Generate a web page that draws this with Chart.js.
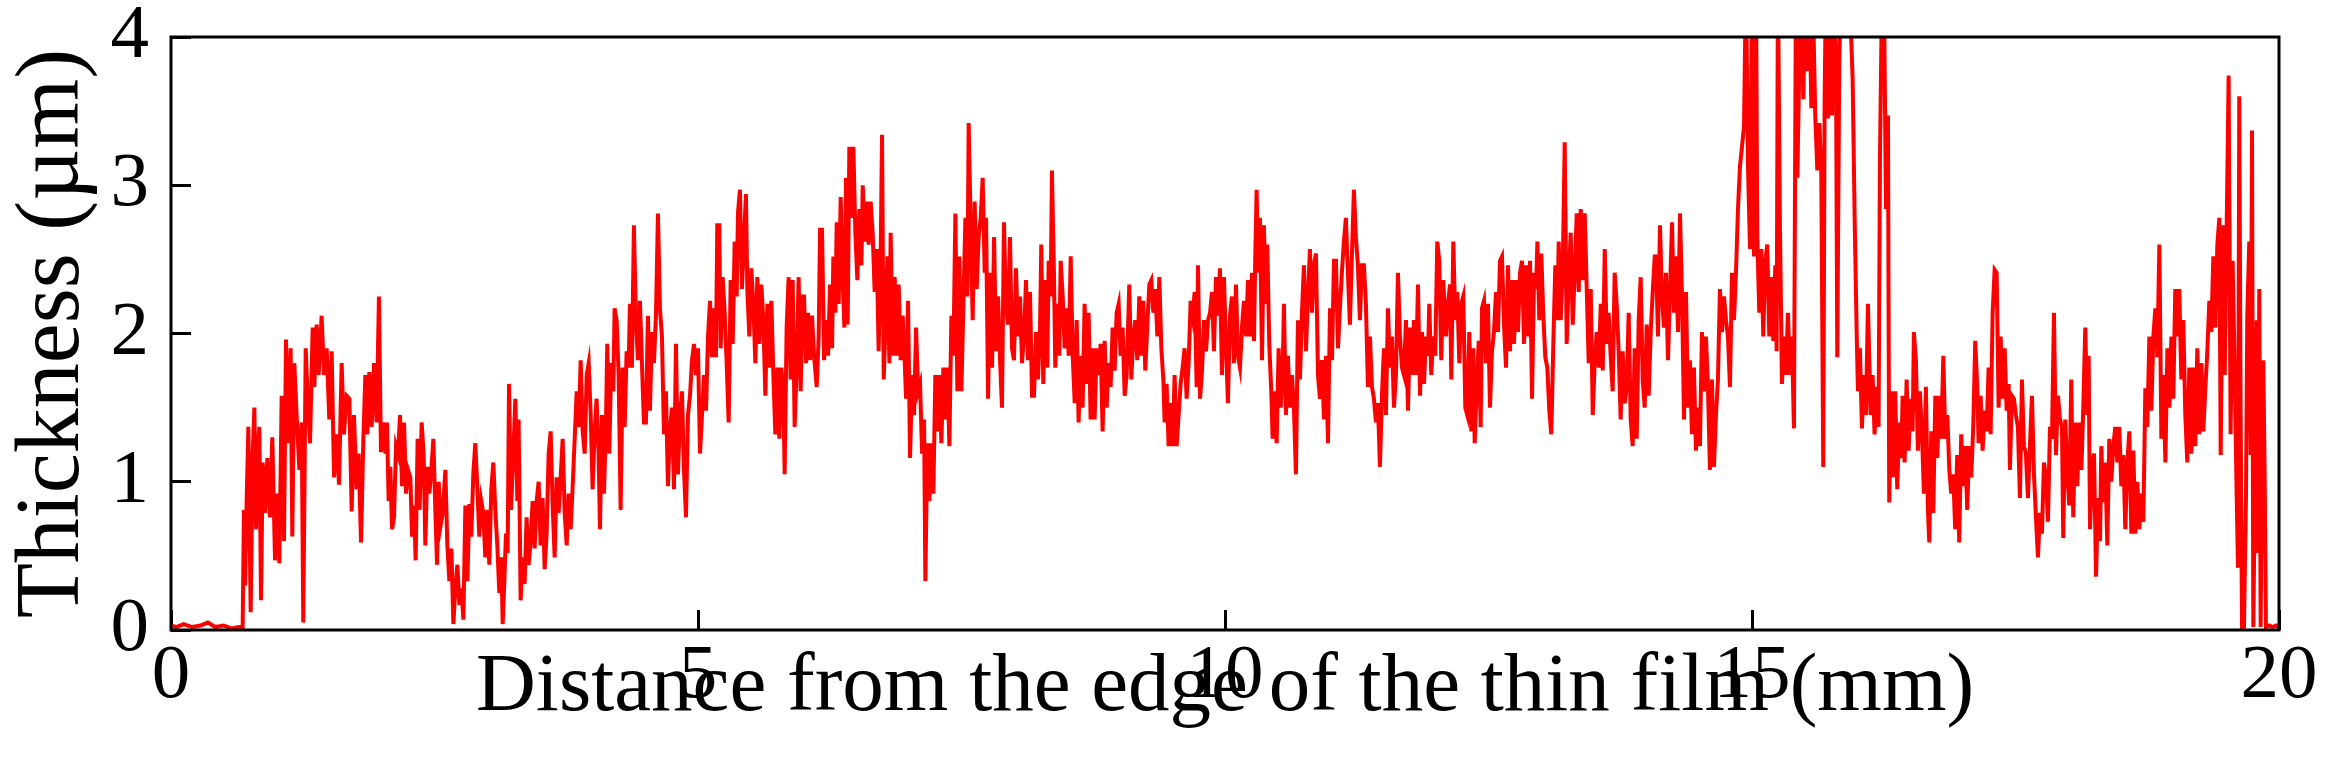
<!DOCTYPE html>
<html>
<head>
<meta charset="utf-8">
<script src="https://cdn.jsdelivr.net/npm/chart.js@4.4.1/dist/chart.umd.min.js"></script>
<style>
  html, body { margin: 0; padding: 0; background: #fff; }
  #wrap { width: 2335px; height: 778px; position: relative; }
</style>
</head>
<body>
<div id="wrap"><canvas id="c"></canvas></div>
<script>
// Thickness profile: [distance (mm), thickness (µm)]
// 0 - 2 mm (bare substrate, then the film edge)
const seg0to2 = [[0,0.03],[0.05,0.02],[0.12,0.04],[0.2,0.02],[0.28,0.03],[0.35,0.05],[0.42,0.02],[0.5,0.03],[0.58,0.01],[0.64,0.02],
  [0.68,0.02],[0.692,0.81],[0.703,0.30],[0.718,0.88],[0.734,1.37],[0.756,0.12],[0.775,1.18],[0.791,1.50],[0.807,0.68],[0.822,1.19],
  [0.838,1.37],[0.854,0.20],[0.870,1.13],[0.892,0.79],[0.914,1.16],[0.939,0.76],[0.961,1.30],[0.987,0.47],[1.009,0.92],[1.028,0.45],
  [1.050,1.58],[1.072,0.60],[1.091,1.96],[1.113,1.26],[1.135,1.90],[1.151,0.63],[1.170,1.80],[1.192,1.45],[1.218,1.08],[1.240,1.40],
  [1.255,0.05],[1.278,1.90],[1.297,1.56],[1.319,1.26],[1.344,2.04],[1.360,1.64],[1.382,2.06],[1.401,1.72],[1.429,2.12],[1.452,1.72],
  [1.477,1.90],[1.502,1.42],[1.524,1.88],[1.547,1.03],[1.572,1.32],[1.594,0.98],[1.619,1.80],[1.641,1.32],[1.667,1.58],[1.692,1.56],
  [1.714,0.80],[1.736,1.45],[1.761,0.95],[1.780,1.19],[1.803,0.59],[1.825,1.29],[1.844,1.72],[1.863,1.32],[1.882,1.74],[1.904,1.37],
  [1.926,1.80],[1.951,1.40],[1.973,2.25],[1.992,1.20],[2.014,1.40]];

const seg2to4 = [[2.034,1.19],[2.049,1.40],[2.065,0.87],[2.081,1.10],[2.097,0.68],[2.116,0.76],[2.135,1.24],[2.154,1.19],[2.173,1.45],[2.192,0.97],
  [2.211,1.40],[2.230,0.92],[2.249,1.08],[2.271,1.03],[2.287,0.63],[2.306,0.84],[2.321,0.47],[2.340,1.29],[2.359,0.81],[2.378,1.40],
  [2.397,1.19],[2.413,0.57],[2.432,1.10],[2.451,0.92],[2.470,1.08],[2.489,1.29],[2.508,0.81],[2.524,0.44],[2.540,1.00],[2.559,0.71],
  [2.578,0.79],[2.603,1.08],[2.622,0.57],[2.641,0.33],[2.660,0.55],[2.679,0.04],[2.698,0.28],[2.717,0.44],[2.736,0.17],[2.755,0.28],
  [2.774,0.07],[2.793,0.84],[2.812,0.33],[2.831,0.85],[2.849,0.63],[2.868,1.05],[2.887,1.26],[2.906,0.97],[2.925,0.63],[2.944,0.87],
  [2.963,0.79],[2.982,0.49],[3.001,0.81],[3.020,0.44],[3.039,0.95],[3.058,1.13],[3.077,0.81],[3.096,0.57],[3.115,0.25],[3.134,0.49],
  [3.147,0.04],[3.163,0.33],[3.178,0.65],[3.194,0.52],[3.207,1.66],[3.226,0.81],[3.245,1.13],[3.267,1.56],[3.286,0.87],[3.298,1.42],
  [3.317,0.20],[3.336,0.49],[3.355,0.31],[3.374,0.76],[3.393,0.44],[3.412,0.60],[3.431,0.87],[3.450,0.55],[3.469,0.87],[3.488,1.00],
  [3.507,0.57],[3.526,0.89],[3.545,0.41],[3.564,0.65],[3.583,1.19],[3.602,1.34],[3.621,0.84],[3.640,0.49],[3.659,1.03],[3.678,0.79],
  [3.697,1.03],[3.716,1.29],[3.735,0.79],[3.754,0.57],[3.773,0.92],[3.792,0.68],[3.811,0.97],[3.830,1.29],[3.849,1.61],[3.868,1.37],
  [3.887,1.82],[3.906,1.34],[3.925,1.19],[3.944,1.72],[3.963,1.80],[3.982,1.45]];

const seg4to6 = [[4.000,0.95],[4.019,1.34],[4.038,1.56],[4.057,1.19],[4.070,0.68],[4.089,1.45],[4.108,0.92],[4.127,1.40],[4.139,1.93],[4.158,1.19],
  [4.177,1.80],[4.196,1.61],[4.209,2.17],[4.228,2.09],[4.247,1.72],[4.266,0.81],[4.285,1.77],[4.304,1.37],[4.323,1.88],[4.342,1.77],
  [4.354,2.20],[4.373,1.77],[4.392,2.73],[4.411,2.09],[4.430,1.82],[4.449,2.22],[4.468,1.80],[4.487,1.40],[4.506,1.40],[4.525,2.12],
  [4.544,1.48],[4.563,2.01],[4.582,1.80],[4.601,2.12],[4.620,2.81],[4.639,2.17],[4.658,1.98],[4.677,1.32],[4.696,1.61],[4.715,0.97],
  [4.734,1.34],[4.753,1.50],[4.772,0.95],[4.791,1.93],[4.810,1.05],[4.829,1.45],[4.848,1.61],[4.867,1.08],[4.886,0.76],[4.905,1.45],
  [4.924,1.58],[4.943,1.82],[4.962,1.93],[4.981,1.72],[5.000,1.90],[5.019,1.19],[5.038,1.45],[5.057,1.72],[5.076,1.48],[5.095,1.98],
  [5.114,2.22],[5.132,1.84],[5.151,2.17],[5.170,1.84],[5.183,2.73],[5.202,2.73],[5.215,1.90],[5.234,2.38],[5.253,2.14],[5.272,1.80],
  [5.291,1.40],[5.310,2.36],[5.329,1.93],[5.348,2.62],[5.367,2.25],[5.379,2.81],[5.398,2.97],[5.417,2.30],[5.436,2.62],[5.455,2.94],
  [5.468,2.30],[5.487,1.98],[5.506,2.44],[5.525,2.20],[5.544,1.80],[5.563,2.38],[5.582,1.93],[5.601,2.33],[5.620,2.09],[5.639,1.58],
  [5.658,2.20],[5.677,1.77],[5.696,2.22],[5.715,1.72],[5.734,1.32],[5.753,1.77],[5.772,1.29],[5.791,1.77],[5.810,1.58],[5.822,1.05],
  [5.841,2.04],[5.860,2.38],[5.879,1.69],[5.898,2.36],[5.917,1.37],[5.936,1.77],[5.955,2.38],[5.974,1.61],[5.993,2.25]];

const seg6to8 = [[6.006,2.25],[6.025,1.80],[6.044,2.14],[6.063,1.82],[6.082,2.12],[6.101,1.85],[6.126,1.64],[6.145,1.98],[6.158,2.70],[6.177,2.70],
  [6.196,1.82],[6.215,2.09],[6.234,1.85],[6.253,2.33],[6.272,1.90],[6.284,2.52],[6.303,2.14],[6.316,2.75],[6.335,2.20],[6.354,2.92],
  [6.373,2.36],[6.389,2.04],[6.404,3.05],[6.420,2.06],[6.436,3.26],[6.455,2.78],[6.474,3.26],[6.493,2.68],[6.512,2.36],[6.531,2.84],
  [6.550,2.46],[6.563,3.00],[6.582,2.62],[6.601,2.89],[6.619,2.60],[6.638,2.89],[6.657,2.68],[6.676,2.28],[6.695,2.57],[6.714,1.88],
  [6.733,2.52],[6.746,3.34],[6.762,1.69],[6.778,2.04],[6.797,2.52],[6.816,1.80],[6.828,2.68],[6.847,1.85],[6.866,2.38],[6.885,1.85],
  [6.904,2.33],[6.923,1.82],[6.942,2.12],[6.961,1.82],[6.974,1.56],[6.993,2.22],[7.012,1.16],[7.031,1.72],[7.050,1.45],[7.069,2.04],
  [7.088,1.61],[7.107,1.66],[7.126,1.19],[7.145,1.42],[7.157,0.33],[7.176,1.26],[7.195,0.87],[7.214,1.26],[7.233,0.92],[7.252,1.72],
  [7.271,1.34],[7.290,1.72],[7.309,1.26],[7.328,1.77],[7.347,1.42],[7.366,1.77],[7.385,1.24],[7.404,2.12],[7.423,1.85],[7.442,2.81],
  [7.461,1.61],[7.480,2.52],[7.499,1.61],[7.518,2.20],[7.537,2.78],[7.556,2.25],[7.568,3.42],[7.587,2.73],[7.606,2.09],[7.625,2.89],
  [7.644,2.30],[7.663,2.65],[7.682,2.78],[7.701,3.05],[7.720,2.41],[7.733,2.78],[7.752,1.56],[7.771,2.41],[7.790,1.77],[7.809,2.65],
  [7.828,1.88],[7.847,2.25],[7.866,1.82],[7.884,1.50],[7.903,2.75],[7.922,2.20],[7.941,2.06],[7.960,2.65],[7.979,1.90],[7.998,1.82],
  [8.017,2.44],[8.036,1.98]];

const seg8to10 = [[8.055,2.25],[8.074,1.80],[8.093,1.98],[8.112,2.36],[8.131,1.82],[8.150,2.28],[8.169,1.58],[8.188,1.58],[8.207,2.01],[8.226,1.69],
  [8.245,2.04],[8.257,2.60],[8.276,1.66],[8.295,2.36],[8.314,1.77],[8.327,2.49],[8.346,2.25],[8.358,3.10],[8.377,2.41],[8.390,1.77],
  [8.409,2.20],[8.428,1.85],[8.441,2.49],[8.460,2.25],[8.479,1.90],[8.498,2.17],[8.517,1.85],[8.536,2.52],[8.555,1.85],[8.574,1.53],
  [8.593,2.09],[8.611,1.40],[8.630,1.85],[8.649,1.50],[8.668,2.20],[8.687,1.66],[8.706,2.14],[8.725,1.42],[8.744,1.90],[8.763,1.42],
  [8.782,1.90],[8.801,1.72],[8.820,1.93],[8.839,1.34],[8.858,1.95],[8.877,1.50],[8.896,1.80],[8.915,1.64],[8.934,2.04],[8.953,1.75],
  [8.972,2.14],[8.991,2.20],[9.010,1.85],[9.029,2.04],[9.048,1.58],[9.067,1.72],[9.092,2.33],[9.111,1.69],[9.130,1.98],[9.149,2.09],
  [9.168,1.82],[9.187,2.25],[9.206,1.85],[9.225,2.22],[9.244,1.75],[9.263,2.06],[9.282,2.33],[9.301,2.36],[9.320,2.14],[9.339,2.30],
  [9.358,1.98],[9.377,2.38],[9.396,1.90],[9.415,1.69],[9.427,1.40],[9.446,1.66],[9.465,1.24],[9.484,1.53],[9.503,1.24],[9.522,1.72],
  [9.541,1.24],[9.560,1.45],[9.579,1.66],[9.598,1.77],[9.617,1.90],[9.636,1.56],[9.655,1.80],[9.674,2.22],[9.693,2.12],[9.712,2.28],
  [9.731,1.64],[9.744,2.46],[9.763,1.56],[9.782,1.75],[9.801,2.09],[9.820,1.88],[9.839,2.09],[9.858,2.14],[9.877,2.28],[9.895,1.88],
  [9.914,2.38],[9.933,2.12],[9.952,2.44],[9.971,1.72],[9.990,2.38],[10.009,1.93],[10.028,1.53],[10.047,2.12]];

const seg10to12 = [[10.066,2.25],[10.085,1.80],[10.104,2.33],[10.123,1.85],[10.142,1.77],[10.161,2.04],[10.180,2.22],[10.199,1.98],[10.218,2.36],[10.237,1.98],
  [10.256,2.41],[10.275,1.95],[10.287,2.52],[10.300,2.97],[10.316,2.41],[10.332,2.78],[10.351,1.82],[10.369,2.73],[10.388,2.20],[10.401,2.60],
  [10.420,1.93],[10.439,1.61],[10.452,1.29],[10.471,1.61],[10.490,1.26],[10.509,1.90],[10.528,1.50],[10.547,1.72],[10.559,2.20],[10.578,1.45],
  [10.597,1.85],[10.616,1.50],[10.635,1.72],[10.654,1.50],[10.673,1.05],[10.692,2.09],[10.711,1.69],[10.730,2.14],[10.749,2.46],[10.768,1.88],
  [10.787,2.25],[10.806,2.57],[10.825,2.14],[10.844,2.46],[10.863,2.54],[10.882,1.72],[10.901,1.56],[10.920,1.82],[10.939,1.42],[10.958,1.85],
  [10.977,1.26],[10.996,2.17],[11.015,1.82],[11.034,2.49],[11.053,2.49],[11.072,1.90],[11.090,2.17],[11.109,2.41],[11.128,2.62],[11.147,2.78],
  [11.166,2.41],[11.185,2.06],[11.204,2.52],[11.223,2.97],[11.242,2.65],[11.261,2.46],[11.280,2.09],[11.299,2.46],[11.318,2.46],[11.337,2.20],
  [11.356,1.64],[11.375,1.98],[11.394,1.64],[11.413,1.56],[11.432,1.40],[11.451,1.53],[11.470,1.10],[11.489,1.58],[11.508,1.90],[11.527,1.45],
  [11.546,2.17],[11.565,1.77],[11.584,1.98],[11.603,1.50],[11.622,1.72],[11.641,2.41],[11.660,1.98],[11.679,1.77],[11.698,1.72],[11.717,2.09],
  [11.736,1.48],[11.755,2.04],[11.774,1.72],[11.793,2.09],[11.812,1.72],[11.831,2.33],[11.850,1.58],[11.869,2.01],[11.888,1.66],[11.907,1.98],
  [11.926,1.85],[11.938,2.20],[11.957,1.72],[11.976,1.98],[11.995,1.85],[12.014,2.62],[12.033,2.49],[12.052,1.82],[12.071,2.36]];

const seg12to14 = [[12.097,1.98],[12.116,2.20],[12.135,2.33],[12.147,1.69],[12.166,2.62],[12.185,2.09],[12.204,2.28],[12.223,1.80],[12.242,2.20],[12.261,2.25],
  [12.280,1.50],[12.299,1.45],[12.318,2.01],[12.337,1.34],[12.356,1.90],[12.369,1.26],[12.388,1.63],[12.407,1.95],[12.426,1.37],[12.438,2.17],
  [12.457,2.22],[12.476,1.80],[12.495,2.20],[12.514,1.50],[12.533,1.88],[12.552,2.01],[12.571,2.28],[12.590,2.01],[12.609,2.49],[12.628,2.52],
  [12.647,2.06],[12.666,1.77],[12.685,2.46],[12.704,1.88],[12.723,2.36],[12.742,1.93],[12.761,2.36],[12.780,2.01],[12.799,2.41],[12.818,2.49],
  [12.837,1.93],[12.856,2.46],[12.875,1.98],[12.894,2.49],[12.913,1.56],[12.932,2.41],[12.951,2.30],[12.964,2.62],[12.982,2.09],[13.001,2.54],
  [13.020,2.12],[13.039,1.84],[13.058,1.77],[13.077,1.48],[13.096,1.32],[13.115,1.93],[13.134,2.46],[13.153,2.09],[13.166,2.62],[13.185,2.09],
  [13.204,2.41],[13.223,3.29],[13.242,1.93],[13.261,2.36],[13.280,2.68],[13.299,2.06],[13.318,2.41],[13.337,2.81],[13.356,2.28],[13.375,2.84],
  [13.394,2.36],[13.413,2.81],[13.432,2.30],[13.451,1.80],[13.470,2.30],[13.489,1.45],[13.508,1.82],[13.527,2.01],[13.546,1.77],[13.565,2.20],
  [13.584,1.75],[13.603,2.57],[13.622,1.93],[13.640,2.14],[13.659,1.85],[13.678,1.61],[13.697,2.41],[13.716,2.20],[13.735,1.88],[13.754,1.42],
  [13.773,1.88],[13.792,1.53],[13.811,1.64],[13.830,2.14],[13.849,1.42],[13.868,1.24],[13.887,1.90],[13.906,1.29],[13.925,2.09],[13.944,2.38],
  [13.963,1.69],[13.982,1.50],[14.001,2.06],[14.020,1.58],[14.039,2.01],[14.058,2.28],[14.077,2.52]];

// values above 4 run off the top of the plot, as in the original
const seg14to16 = [[14.089,2.52],[14.108,1.98],[14.127,2.73],[14.146,2.25],[14.165,2.04],[14.184,2.41],[14.203,1.82],[14.222,2.28],[14.241,2.75],[14.260,2.14],
  [14.279,2.52],[14.298,2.01],[14.317,2.81],[14.336,2.25],[14.355,1.42],[14.374,2.28],[14.393,1.50],[14.411,1.82],[14.430,1.32],[14.449,1.77],
  [14.468,1.21],[14.487,1.50],[14.506,1.24],[14.525,2.01],[14.544,1.61],[14.563,1.98],[14.582,1.64],[14.601,1.08],[14.620,1.69],[14.639,1.10],
  [14.658,1.45],[14.677,1.69],[14.696,2.30],[14.715,2.01],[14.734,2.25],[14.753,2.09],[14.772,1.98],[14.791,1.64],[14.810,2.41],[14.829,2.09],
  [14.848,2.41],[14.867,2.84],[14.886,3.13],[14.905,3.26],[14.924,3.40],[14.943,4.40],[14.962,3.13],[14.981,2.57],[15.000,4.40],[15.019,2.52],
  [15.038,4.40],[15.050,2.65],[15.069,2.14],[15.088,2.57],[15.107,1.98],[15.126,2.49],[15.145,2.60],[15.164,1.98],[15.183,2.38],[15.202,1.95],
  [15.221,2.46],[15.234,1.88],[15.246,4.40],[15.265,2.73],[15.284,1.66],[15.303,1.98],[15.322,1.72],[15.341,2.14],[15.360,1.72],[15.379,1.98],
  [15.398,1.36],[15.417,4.40],[15.430,3.05],[15.449,3.80],[15.468,4.40],[15.487,3.58],[15.506,4.40],[15.525,3.77],[15.544,4.30],[15.563,3.52],
  [15.582,4.10],[15.601,3.45],[15.620,3.10],[15.639,3.42],[15.657,3.10],[15.676,1.10],[15.689,3.58],[15.702,4.40],[15.721,3.45],[15.740,4.40],
  [15.759,3.47],[15.778,4.40],[15.797,3.82],[15.809,1.84],[15.828,3.83],[15.847,4.40],[15.873,4.40],[15.892,4.20],[15.911,4.40],[15.936,4.10],
  [15.955,3.71],[15.974,2.78],[15.993,2.01],[16.005,1.61],[16.024,1.90],[16.043,1.36],[16.062,1.72],[16.081,1.45],[16.100,2.20]];

const seg16to18 = [[16.125,1.45],[16.144,1.72],[16.163,1.32],[16.182,1.64],[16.201,1.37],[16.214,3.18],[16.233,4.30],[16.252,4.30],[16.271,2.84],[16.290,3.47],
  [16.302,0.86],[16.321,1.61],[16.340,1.03],[16.359,1.61],[16.378,0.95],[16.397,1.40],[16.416,1.16],[16.429,1.58],[16.448,1.13],[16.467,1.69],
  [16.486,1.21],[16.505,1.56],[16.524,1.34],[16.536,2.01],[16.555,1.82],[16.574,1.21],[16.593,1.61],[16.612,1.34],[16.631,0.92],[16.650,1.64],
  [16.669,0.81],[16.682,0.59],[16.701,1.34],[16.720,0.79],[16.739,1.58],[16.758,1.16],[16.777,1.58],[16.796,1.29],[16.815,1.85],[16.834,1.29],
  [16.853,1.45],[16.872,1.08],[16.890,0.92],[16.909,1.05],[16.928,0.68],[16.947,1.18],[16.966,0.59],[16.985,1.32],[17.004,0.97],[17.023,1.24],
  [17.042,0.81],[17.061,1.24],[17.080,1.03],[17.099,1.37],[17.118,1.95],[17.137,1.64],[17.150,1.26],[17.169,1.58],[17.188,1.21],[17.207,1.48],
  [17.226,1.34],[17.245,1.77],[17.264,1.32],[17.283,2.14],[17.302,2.43],[17.321,2.41],[17.340,1.50],[17.359,1.98],[17.378,1.56],[17.397,1.90],
  [17.416,1.48],[17.435,1.66],[17.447,1.08],[17.466,1.58],[17.485,1.56],[17.504,1.45],[17.523,1.37],[17.542,0.89],[17.561,1.69],[17.580,1.24],
  [17.599,1.19],[17.618,0.89],[17.637,1.24],[17.656,1.58],[17.675,1.05],[17.694,0.76],[17.713,0.49],[17.732,0.79],[17.751,0.65],[17.770,1.13],
  [17.789,1.03],[17.808,0.73],[17.827,1.37],[17.846,1.29],[17.865,2.14],[17.884,1.18],[17.903,1.58],[17.922,1.42],[17.941,1.37],[17.953,0.62],
  [17.972,1.42],[17.991,1.08],[18.010,0.84],[18.029,1.69],[18.048,0.76],[18.067,1.40],[18.086,0.97]];

const seg18to20 = [[18.106,1.40],[18.125,1.08],[18.143,1.50],[18.162,2.04],[18.181,1.45],[18.194,1.85],[18.207,0.68],[18.226,1.08],[18.245,1.19],[18.264,0.36],
  [18.283,0.89],[18.302,0.60],[18.314,1.24],[18.333,0.86],[18.352,1.13],[18.371,0.57],[18.390,1.29],[18.409,1.00],[18.428,1.24],[18.447,1.37],
  [18.466,1.13],[18.485,1.37],[18.504,0.97],[18.523,1.18],[18.542,0.68],[18.561,1.13],[18.580,1.34],[18.599,0.65],[18.618,1.21],[18.637,0.65],
  [18.656,1.00],[18.675,0.68],[18.694,0.92],[18.713,0.73],[18.732,1.63],[18.751,1.37],[18.770,1.98],[18.789,1.48],[18.808,1.98],[18.827,2.17],
  [18.846,1.84],[18.865,2.60],[18.884,1.29],[18.903,1.72],[18.922,1.13],[18.941,1.90],[18.960,1.50],[18.979,1.98],[18.997,1.56],[19.016,2.30],
  [19.035,1.98],[19.054,2.30],[19.073,1.69],[19.092,2.09],[19.111,1.45],[19.130,1.13],[19.149,1.77],[19.168,1.19],[19.187,1.77],[19.206,1.24],
  [19.225,1.90],[19.244,1.32],[19.263,1.80],[19.282,1.34],[19.301,1.63],[19.320,1.88],[19.339,2.22],[19.358,2.01],[19.377,2.52],[19.396,2.04],
  [19.415,2.60],[19.434,2.78],[19.447,1.18],[19.466,2.73],[19.485,1.72],[19.504,2.73],[19.522,3.74],[19.541,1.32],[19.560,2.49],[19.579,1.77],
  [19.598,0.92],[19.611,0.42],[19.623,3.60],[19.636,1.45],[19.649,0.02],[19.668,0.02],[19.687,0.92],[19.699,2.12],[19.718,2.62],[19.731,1.18],
  [19.744,3.37],[19.756,0.02],[19.775,1.18],[19.788,2.09],[19.801,0.52],[19.813,2.30],[19.826,0.02],[19.839,1.24],[19.851,1.82],[19.864,1.05],
  [19.876,0.02],[19.908,0.03],[19.940,0.02],[19.972,0.03],[19.997,0.02]];

const segments = [seg0to2, seg2to4, seg4to6, seg6to8, seg8to10, seg10to12, seg12to14, seg14to16, seg16to18, seg18to20];
const points = segments.flat().map(([x, y]) => ({ x, y }));

const xTickStep = 5;
const yTickStep = 0.5;

const serif = "'Liberation Serif', 'Times New Roman', serif";
const tickFont = { family: serif, size: 77 };

// ticks point inward (negative length), no grid on the plot itself
const inwardTicks = {
  display: true, drawOnChartArea: false, drawTicks: true,
  tickLength: -20, tickWidth: 3, tickColor: "#000",
};

// box round the plot area
const frame = {
  id: "frame",
  afterDatasetsDraw(chart) {
    const { ctx, chartArea: a } = chart;
    ctx.save();
    ctx.lineWidth = 3;
    ctx.strokeStyle = "#000";
    ctx.strokeRect(a.left, a.top, a.right - a.left, a.bottom - a.top);
    ctx.restore();
  },
};

new Chart(document.getElementById("c"), {
  type: "line",
  data: {
    datasets: [{
      data: points,
      borderColor: "#ff0000", borderWidth: 4,
      pointRadius: 0, tension: 0, clip: 0,
    }],
  },
  options: {
    responsive: true, maintainAspectRatio: false, animation: false,
    devicePixelRatio: 1,
    layout: { padding: { top: 37, right: 56, left: 0, bottom: 0 } },
    plugins: { legend: { display: false }, tooltip: { enabled: false } },
    scales: {
      x: {
        type: "linear", min: 0, max: 20,
        ticks: { stepSize: xTickStep, padding: 21, font: tickFont, color: "#000", maxRotation: 0, autoSkip: false },
        grid: inwardTicks,
        border: { display: false },
        title: {
          display: true, text: "Distance from the edge of the thin film (mm)",
          font: { family: serif, size: 83 }, color: "#000",
          padding: { top: 0, bottom: 40 },
        },
        afterFit: (s) => { s.height = 148; s.paddingLeft = 0; s.paddingRight = 0; },
      },
      y: {
        min: 0, max: 4,
        ticks: {
          stepSize: yTickStep, padding: 42, font: tickFont, color: "#000",
          callback: (v) => (Number.isInteger(v) ? v : ""),
        },
        grid: inwardTicks,
        border: { display: false },
        title: {
          display: true, text: "Thickness (µm)",
          font: { family: serif, size: 90 }, color: "#000",
          padding: { top: 0, bottom: 0 },
        },
        afterFit: (s) => { s.width = 171; s.paddingTop = 0; s.paddingBottom = 0; },
      },
    },
  },
  plugins: [frame],
});
</script>
</body>
</html>
